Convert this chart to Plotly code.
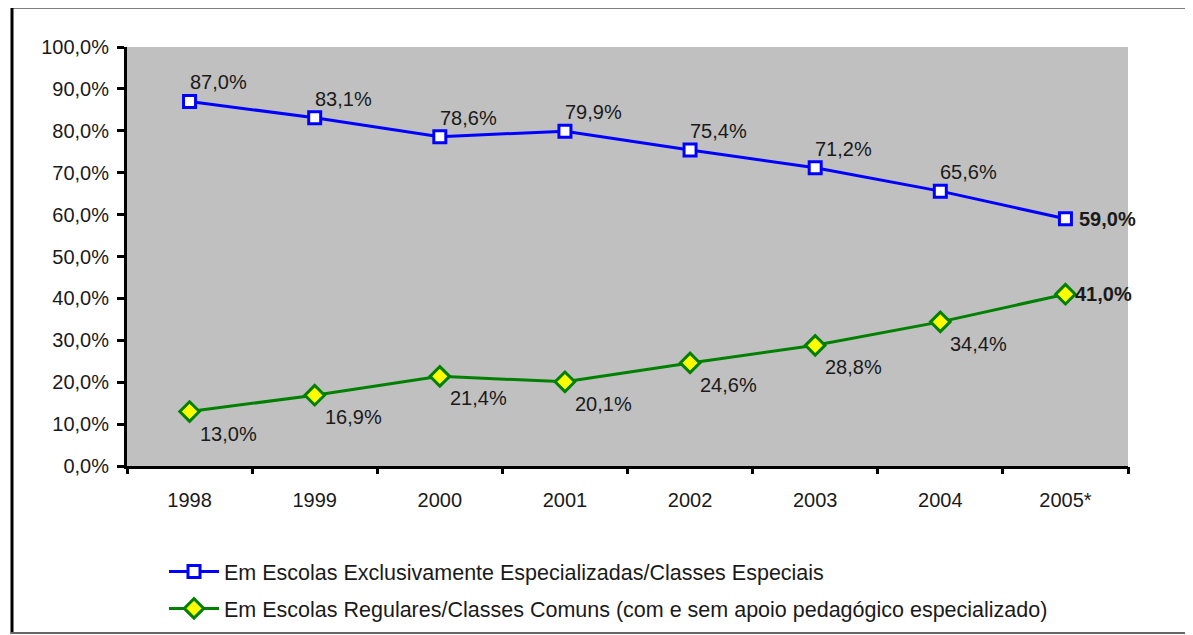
import plotly.graph_objects as go

years = ["1998", "1999", "2000", "2001", "2002", "2003", "2004", "2005*"]
especializadas = [87.0, 83.1, 78.6, 79.9, 75.4, 71.2, 65.6, 59.0]
regulares = [13.0, 16.9, 21.4, 20.1, 24.6, 28.8, 34.4, 41.0]
name_esp = "Em Escolas Exclusivamente Especializadas/Classes Especiais"
name_reg = "Em Escolas Regulares/Classes Comuns (com e sem apoio pedagógico especializado)"
y_ticks = [0, 10, 20, 30, 40, 50, 60, 70, 80, 90, 100]


def pct(v):
    return f"{v:.1f}".replace(".", ",") + "%"


# page offset (browser body margin) compensation
OFF = 8
W, H = 1193 - OFF, 635 - OFF
L, R, T, B = 127 - OFF, 1193 - 1128, 47 - OFF, 635 - 466
pw, ph = W - L - R, H - T - B


def px(x):
    return (x - OFF - L) / pw


def py(y):
    return (H - B - (y - OFF)) / ph


FONT = "Liberation Sans, Arial, sans-serif"
TXT = "#1a1a1a"
n = len(years)
idx = list(range(n))

fig = go.Figure()
fig.add_trace(go.Scatter(
    x=idx, y=especializadas, name=name_esp, mode="lines+markers", legendgroup="a",
    line=dict(color="#0000FF", width=3),
    marker=dict(symbol="square", size=12, color="white", line=dict(color="#0000FF", width=3)),
))
fig.add_trace(go.Scatter(
    x=idx, y=regulares, name=name_reg, mode="lines+markers", legendgroup="b",
    line=dict(color="#008000", width=3),
    marker=dict(symbol="diamond", size=15, color="#FFFF00", line=dict(color="#008000", width=3)),
))

annotations = []
for i, v in enumerate(especializadas):
    if i < n - 1:
        annotations.append(dict(x=i, y=v, text=pct(v), showarrow=False, xanchor="left",
                                yanchor="bottom", xshift=-2, yshift=6))
    else:
        annotations.append(dict(x=i, y=v, text="<b>" + pct(v) + "</b>", showarrow=False,
                                xanchor="left", yanchor="middle", xshift=12))
for i, v in enumerate(regulares):
    if i < n - 1:
        annotations.append(dict(x=i, y=v, text=pct(v), showarrow=False, xanchor="left",
                                yanchor="top", xshift=8, yshift=-9))
    else:
        annotations.append(dict(x=i, y=v, text="<b>" + pct(v) + "</b>", showarrow=False,
                                xanchor="left", yanchor="middle", xshift=8))
for a in annotations:
    a["font"] = dict(family=FONT, size=20, color=TXT)

fig.update_layout(
    width=W, height=H,
    margin=dict(l=L, r=R, t=T, b=B, autoexpand=False),
    paper_bgcolor="white", plot_bgcolor="#C0C0C0",
    font=dict(family=FONT, size=20, color=TXT),
    showlegend=True,
    legend=dict(x=px(164), y=py(551), xanchor="left", yanchor="top",
                bgcolor="rgba(0,0,0,0)", font=dict(size=21.5), tracegroupgap=6,
                itemwidth=50),
    annotations=annotations,
    xaxis=dict(tickmode="array", tickvals=idx, ticktext=years, showgrid=False, zeroline=False,
               showline=True, linecolor="black", linewidth=3,
               ticks="", ticklabelstandoff=14, range=[-0.5, n - 0.5]),
    xaxis2=dict(overlaying="x", matches="x", tickmode="array",
                tickvals=[i - 0.5 for i in range(n + 1)], showticklabels=False,
                ticks="outside", ticklen=7, tickwidth=3, tickcolor="black",
                showgrid=False, zeroline=False, side="bottom", range=[-0.5, n - 0.5]),
    yaxis=dict(range=[0, 100], tickvals=y_ticks, ticktext=[pct(v) for v in y_ticks],
               showgrid=False, zeroline=False, ticklabelstandoff=4,
               showline=True, linecolor="black", linewidth=3,
               ticks="outside", ticklen=7, tickwidth=3, tickcolor="black"),
    shapes=[
        dict(type="line", xref="paper", yref="paper", x0=px(11), x1=px(1193), y0=py(7), y1=py(7),
             line=dict(color="black", width=3)),
        dict(type="line", xref="paper", yref="paper", x0=px(12), x1=px(12), y0=py(6), y1=py(634),
             line=dict(color="black", width=3)),
        dict(type="line", xref="paper", yref="paper", x0=px(11), x1=px(1193), y0=py(633), y1=py(633),
             line=dict(color="#666666", width=2)),
    ],
)
# invisible trace to activate the boundary-tick axis
fig.add_trace(go.Scatter(x=[-0.5], y=[0], xaxis="x2", mode="markers",
                         marker=dict(opacity=0), showlegend=False, hoverinfo="skip"))

fig.write_html("out.html")
